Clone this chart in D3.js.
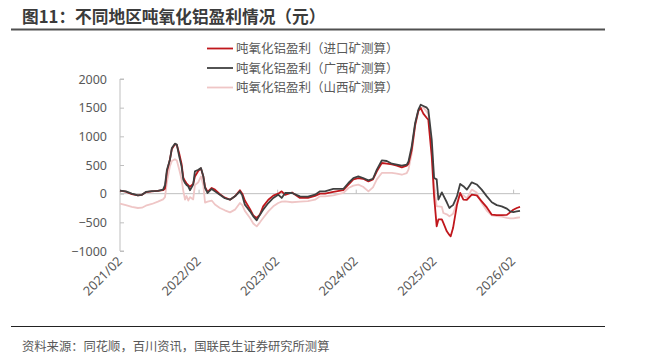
<!DOCTYPE html>
<html>
<head>
<meta charset="utf-8">
<script src="https://cdn.jsdelivr.net/npm/d3@7"></script>
<style>
html,body{margin:0;padding:0;background:#fff;}
svg{display:block;font-family:"Noto Sans CJK SC","Noto Sans",sans-serif;}
</style>
</head>
<body>
<svg id="chart" width="663" height="356"></svg>
<script>
const dates = ["2021-02-01","2021-02-28","2021-03-28","2021-04-25","2021-05-14","2021-06-01","2021-06-29","2021-07-27","2021-08-20","2021-08-29","2021-09-07","2021-09-21","2021-09-30","2021-10-14","2021-10-23","2021-11-03","2021-11-14","2021-11-22","2021-11-30","2021-12-07","2021-12-15","2021-12-23","2022-01-07","2022-01-15","2022-01-31","2022-02-12","2022-02-23","2022-03-03","2022-03-15","2022-04-03","2022-04-18","2022-05-11","2022-06-03","2022-06-27","2022-07-20","2022-08-12","2022-08-23","2022-09-04","2022-09-28","2022-10-13","2022-10-29","2022-11-13","2022-11-28","2022-12-22","2023-01-14","2023-02-06","2023-02-22","2023-03-10","2023-04-11","2023-05-18","2023-06-24","2023-07-27","2023-08-19","2023-09-11","2023-10-20","2023-12-05","2023-12-29","2024-01-21","2024-02-13","2024-03-06","2024-03-31","2024-04-21","2024-05-09","2024-06-01","2024-06-24","2024-07-18","2024-08-10","2024-09-02","2024-09-25","2024-10-03","2024-10-18","2024-11-03","2024-11-18","2024-11-29","2024-12-11","2024-12-27","2025-01-03","2025-01-19","2025-01-30","2025-02-11","2025-02-19","2025-03-07","2025-03-14","2025-03-30","2025-04-11","2025-04-17","2025-04-28","2025-05-16","2025-05-31","2025-06-15","2025-07-01","2025-07-24","2025-08-16","2025-09-08","2025-10-02","2025-10-25","2025-11-17","2025-12-10","2026-01-03","2026-01-18","2026-02-02","2026-02-18","2026-03-05"];

const importOre = [52,35,-10,-30,-20,25,40,50,60,90,380,600,780,860,850,700,520,280,220,180,150,120,170,300,400,440,300,120,30,100,70,-10,-70,-105,-47,60,0,-120,-270,-380,-424,-366,-221,-105,-35,0,40,-20,20,-75,-75,-40,0,0,30,60,157,250,273,260,215,250,390,535,525,510,490,460,490,520,760,1200,1450,1494,1395,1320,1290,651,-47,-570,-450,-450,-511,-657,-720,-744,-600,-200,12,-105,-110,-17,-30,-134,-240,-366,-375,-375,-370,-326,-280,-250,-232];

const guangxiOre = [52,40,0,-30,-20,30,45,50,70,150,418,593,797,872,855,651,476,244,186,150,128,60,157,389,418,448,302,99,12,82,40,-20,-80,-105,-47,40,-30,-192,-308,-395,-465,-366,-279,-163,-75,-17,-75,12,12,-47,-50,-17,40,40,82,82,186,273,302,273,232,260,418,581,570,523,505,488,505,563,825,1233,1465,1552,1530,1500,1465,942,273,250,-105,23,-30,-150,-250,-230,-200,-47,169,130,70,198,160,70,-47,-150,-200,-221,-260,-308,-320,-310,-300];

const shanxiOre = [-174,-200,-230,-250,-245,-210,-180,-140,-100,-60,200,480,570,600,580,420,250,50,-105,-40,-120,-60,-100,150,200,302,150,-157,-140,-120,-190,-250,-290,-326,-279,-163,-200,-300,-424,-520,-570,-500,-424,-308,-221,-163,-140,-134,-150,-140,-130,-105,-47,-47,-30,12,99,140,157,120,40,110,250,361,361,361,350,330,360,420,700,1175,1430,1500,1500,1430,1390,800,150,-221,-220,-230,-337,-360,-395,-380,-350,-150,12,-30,-80,70,20,-163,-300,-380,-390,-400,-424,-430,-430,-420,-413];

const seriesNames = ["吨氧化铝盈利（进口矿测算）","吨氧化铝盈利（广西矿测算）","吨氧化铝盈利（山西矿测算）"];
const seriesColors = ["#c0171c","#404040","#efc6c6"];
const yTicks = [2000,1500,1000,500,0,-500,-1000];
const xTickLabels = ["2021/02","2022/02","2023/02","2024/02","2025/02","2026/02"];
const titleText = "图11：不同地区吨氧化铝盈利情况（元）";
const sourceText = "资料来源：同花顺，百川资讯，国联民生证券研究所测算";

const parse = d3.timeParse("%Y-%m-%d");
const parseTick = d3.timeParse("%Y/%m");
const dts = dates.map(parse);
const allSeries = [importOre, guangxiOre, shanxiOre];

const svg = d3.select("#chart");

const x = d3.scaleTime().domain([parse("2021-02-01"), parse("2026-03-05")]).range([120, 520]);
const y = d3.scaleLinear().domain([-1000, 2000]).range([251, 79]);

// title
svg.append("text").attr("x", 22).attr("y", 23)
  .attr("font-size", 16.7).attr("font-weight", "bold").attr("fill", "#3b3b3b")
  .text(titleText);
svg.append("line").attr("x1", 11).attr("x2", 605).attr("y1", 29.5).attr("y2", 29.5)
  .attr("stroke", "#505050").attr("stroke-width", 2);

// y axis
const yAxis = svg.append("g").attr("transform", "translate(120,0)")
  .call(d3.axisRight(y).tickValues(yTicks).tickSize(4).tickFormat(d3.format("d")));
yAxis.select(".domain").attr("stroke", "#bfbfbf").attr("d", `M4,${y(2000)}H0V${y(-1000)}H4`);
yAxis.selectAll(".tick line").attr("stroke", "#bfbfbf");
yAxis.selectAll(".tick text").attr("x", -13).attr("text-anchor", "end")
  .attr("fill", "#595959").attr("font-size", 12.5).attr("font-family", "'Noto Sans','Noto Sans CJK SC',sans-serif");

// zero x axis line
const xAxis = svg.append("g").attr("transform", `translate(0,${y(0)})`)
  .call(d3.axisTop(x).tickValues(xTickLabels.map(parseTick)).tickSize(4).tickFormat(""));
xAxis.select(".domain").attr("stroke", "#bfbfbf").attr("d", `M120,0H520`);
xAxis.selectAll(".tick line").attr("stroke", "#bfbfbf");

// x tick labels
svg.append("g").selectAll("text").data(xTickLabels).join("text")
  .attr("transform", d => `translate(${x(parseTick(d)) + 3},${262}) rotate(-45)`)
  .attr("text-anchor", "end").attr("font-size", 12.8).attr("fill", "#595959")
  .attr("font-family", "'Noto Sans','Noto Sans CJK SC',sans-serif")
  .text(d => d);

// lines (draw pink first, then red, then dark)
const line = d3.line().x((d, i) => x(dts[i])).y(d => y(d));
[2, 0, 1].forEach(k => {
  svg.append("path").datum(allSeries[k])
    .attr("fill", "none").attr("stroke", seriesColors[k])
    .attr("stroke-width", 1.8).attr("stroke-linejoin", "round")
    .attr("d", line);
});

// legend
const lg = svg.append("g");
seriesNames.forEach((name, i) => {
  const yy = 48.5 + i * 19.5;
  lg.append("line").attr("x1", 207).attr("x2", 233).attr("y1", yy).attr("y2", yy)
    .attr("stroke", seriesColors[i]).attr("stroke-width", 1.8);
  lg.append("text").attr("x", 236).attr("y", yy + 4.5)
    .attr("font-size", 12.5).attr("fill", "#595959").text(name);
});

// footer
svg.append("line").attr("x1", 11).attr("x2", 605).attr("y1", 326.5).attr("y2", 326.5)
  .attr("stroke", "#222").attr("stroke-width", 1);
svg.append("text").attr("x", 22).attr("y", 351)
  .attr("font-size", 12.3).attr("fill", "#595959").text(sourceText);
</script>
</body>
</html>
